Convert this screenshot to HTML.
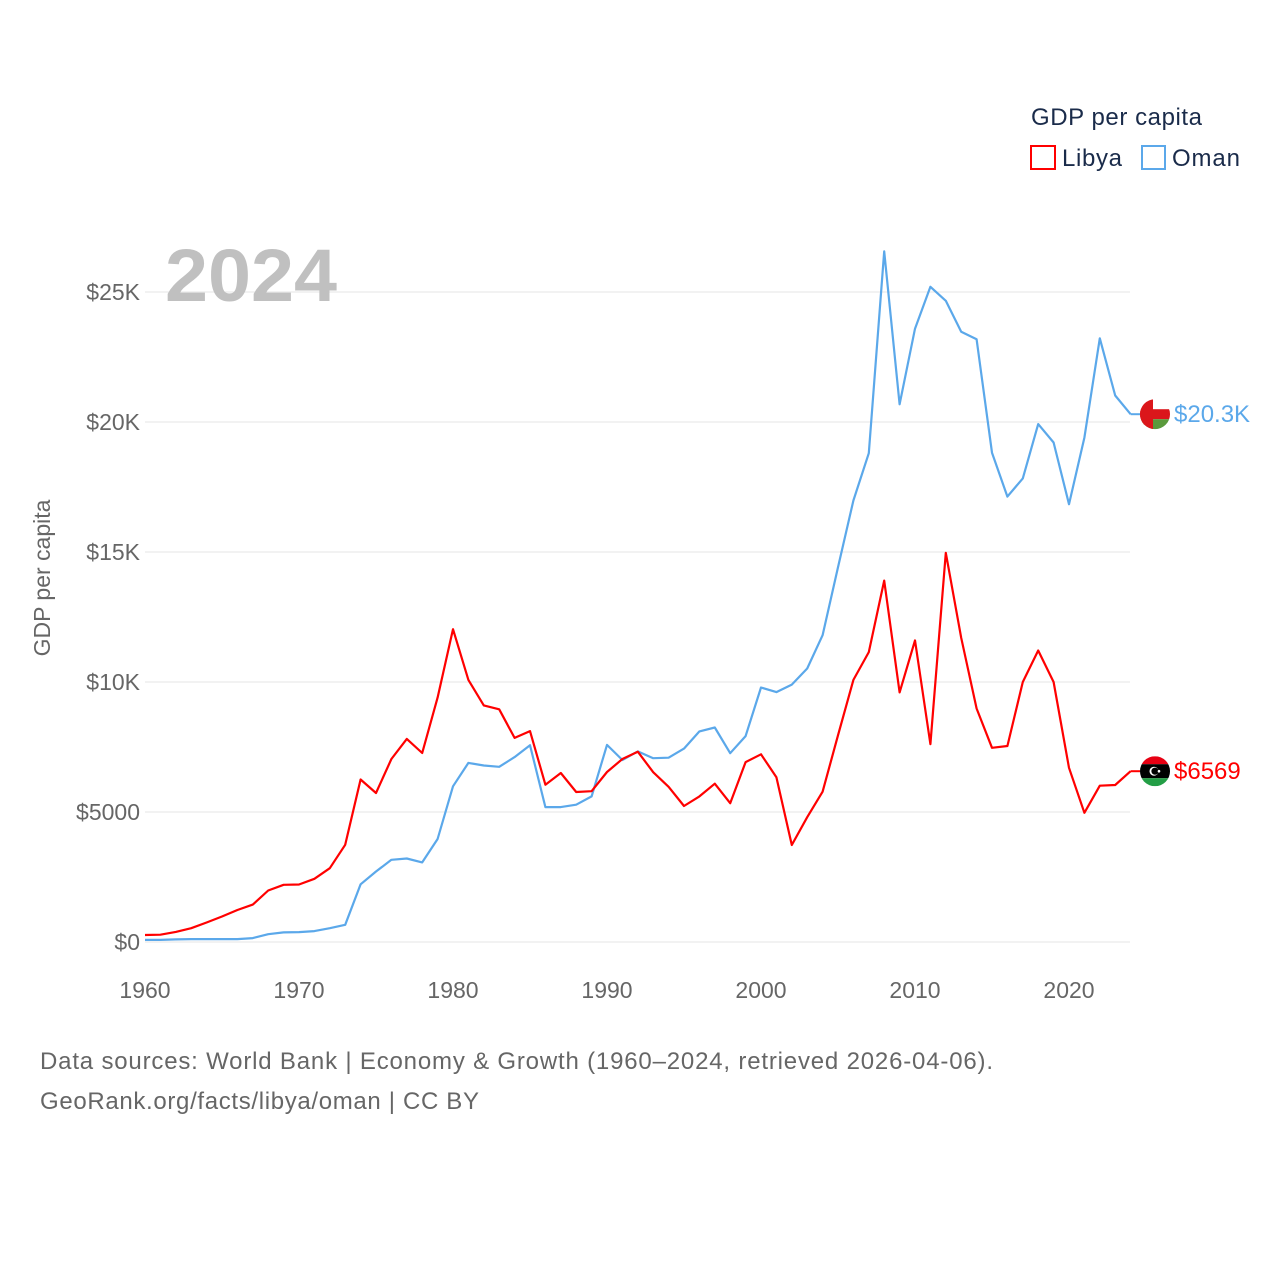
<!DOCTYPE html>
<html><head><meta charset="utf-8"><style>
body{margin:0;background:#fff;width:1280px;height:1280px;overflow:hidden;font-family:"Liberation Sans",sans-serif}
svg text{font-family:"Liberation Sans",sans-serif}
</style></head><body>
<svg id="chart" width="1280" height="1280" xmlns="http://www.w3.org/2000/svg">
<g id="grid"></g><g id="axes"></g><g id="lines"></g><g id="ends"></g>
<text x="165" y="301" font-size="74" font-weight="bold" fill="#c0c0c0" textLength="172" lengthAdjust="spacingAndGlyphs">2024</text>
<text transform="translate(50,578) rotate(-90)" text-anchor="middle" font-size="23" fill="#666">GDP per capita</text>
<g>
<text x="1031" y="125" font-size="24" fill="#1a2b4a" textLength="171">GDP per capita</text>
<g><rect x="1031" y="146" width="24" height="23" fill="none" stroke="#ff0000" stroke-width="2"/><text x="1062" y="166" font-size="24" fill="#1a2b4a" textLength="60">Libya</text></g>
<g><rect x="1142" y="146" width="23" height="23" fill="none" stroke="#5ba8ea" stroke-width="2"/><text x="1172" y="166" font-size="24" fill="#1a2b4a" textLength="68">Oman</text></g>
</g>
<text x="40" y="1069" font-size="24" fill="#666" textLength="953">Data sources: World Bank | Economy &amp; Growth (1960–2024, retrieved 2026-04-06).</text>
<text x="40" y="1109" font-size="24" fill="#666" textLength="439">GeoRank.org/facts/libya/oman | CC BY</text>
</svg>
<script>
const years=[];for(let y=1960;y<=2024;y++)years.push(y);
const libya=[0.27,0.28,0.39,0.53,0.75,0.98,1.23,1.44,1.98,2.2,2.21,2.43,2.84,3.74,6.25,5.73,7.04,7.81,7.27,9.4,12.03,10.08,9.1,8.95,7.85,8.11,6.05,6.5,5.77,5.8,6.54,7.04,7.32,6.53,5.97,5.23,5.6,6.09,5.34,6.92,7.22,6.34,3.73,4.8,5.78,7.95,10.08,11.15,13.9,9.6,11.6,7.61,14.97,11.7,8.98,7.47,7.54,10.0,11.21,10.0,6.7,4.97,6.01,6.04,6.569];
const oman=[0.08,0.08,0.1,0.11,0.11,0.11,0.11,0.15,0.3,0.37,0.38,0.42,0.53,0.66,2.22,2.71,3.16,3.21,3.06,3.96,5.99,6.89,6.79,6.74,7.11,7.57,5.19,5.19,5.28,5.6,7.58,7.0,7.33,7.07,7.09,7.44,8.1,8.25,7.26,7.92,9.79,9.61,9.9,10.52,11.8,14.41,16.98,18.8,26.56,20.68,23.59,25.2,24.66,23.47,23.18,18.82,17.13,17.83,19.92,19.21,16.84,19.4,23.22,21.02,20.3];
const yTicks=[0,5,10,15,20,25];
const yTickLabels=["$0","$5000","$10K","$15K","$20K","$25K"];
const xTicks=[1960,1970,1980,1990,2000,2010,2020];
const endLabels=["$6569","$20.3K"];
const NS="http://www.w3.org/2000/svg";
const X=y=>145+(y-1960)*15.4;
const Y=v=>942-v*26;
function mk(tag,attrs,parent){const e=document.createElementNS(NS,tag);for(const k in attrs)e.setAttribute(k,attrs[k]);document.getElementById(parent).appendChild(e);return e;}
yTicks.forEach((t,i)=>{
 const l=mk('line',{x1:145,x2:1130,y1:Y(t),y2:Y(t),stroke:'#e6e6e6','stroke-width':1},'grid');
 
 
 const tx=mk('text',{x:140,y:Y(t)+8,'text-anchor':'end','font-size':23,fill:'#666'},'axes');
 tx.textContent=yTickLabels[i];
 
 
});
xTicks.forEach(t=>{
 const tx=mk('text',{x:X(t),y:998,'text-anchor':'middle','font-size':23,fill:'#666'},'axes');
 tx.textContent=t;
 
 
});
function line(data,color,name){
 const d=data.map((v,i)=>(i?'L':'M')+X(years[i]).toFixed(1)+' '+Y(v).toFixed(1)).join(' ');
 const p=mk('path',{d:d,fill:'none',stroke:color,'stroke-width':2.2,'stroke-linejoin':'round'},'lines');
 
 
}
line(oman,'#5ba8ea','oman-line');
line(libya,'#ff0000','libya-line');
function flag(cx,cy,type,name){
 const g=mk('g',{},'ends');
 
 
 const id='c'+type;
 const cp=document.createElementNS(NS,'clipPath');cp.setAttribute('id',id);
 const c=document.createElementNS(NS,'circle');c.setAttribute('cx',cx);c.setAttribute('cy',cy);c.setAttribute('r',15);cp.appendChild(c);g.appendChild(cp);
 const add=(t,a)=>{const e=document.createElementNS(NS,t);for(const k in a)e.setAttribute(k,a[k]);e.setAttribute('clip-path','url(#'+id+')');g.appendChild(e);};
 if(type==='om'){
  add('rect',{x:cx-15,y:cy-15,width:30,height:10,fill:'#fff'});
  add('rect',{x:cx-15,y:cy-5,width:30,height:10,fill:'#db161b'});
  add('rect',{x:cx-15,y:cy+5,width:30,height:10,fill:'#5a9a3c'});
  add('rect',{x:cx-15,y:cy-15,width:13,height:30,fill:'#db161b'});
 }else{
  add('rect',{x:cx-15,y:cy-15,width:30,height:8,fill:'#e70013'});
  add('rect',{x:cx-15,y:cy-7,width:30,height:14,fill:'#000'});
  add('rect',{x:cx-15,y:cy+7,width:30,height:8,fill:'#239e46'});
  add('circle',{cx:cx-1,cy:cy,r:4.5,fill:'#fff'});
  add('circle',{cx:cx,cy:cy,r:3.6,fill:'#000'});
  add('circle',{cx:cx+4,cy:cy,r:1.3,fill:'#fff'});
 }
}
const lastL=libya[libya.length-1],lastO=oman[oman.length-1];
mk('line',{x1:X(2024),x2:1140,y1:Y(lastO),y2:Y(lastO),stroke:'#5ba8ea','stroke-width':2},'ends');
mk('line',{x1:X(2024),x2:1140,y1:Y(lastL),y2:Y(lastL),stroke:'#ff0000','stroke-width':2},'ends');
flag(1155,Y(lastO),'om','oman-flag');
flag(1155,Y(lastL),'ly','libya-flag');
const t1=mk('text',{x:1174,y:Y(lastO)+8,'font-size':24,fill:'#5ba8ea'},'ends');
t1.textContent=endLabels[1];


const t2=mk('text',{x:1174,y:Y(lastL)+8,'font-size':24,fill:'#ff0000'},'ends');
t2.textContent=endLabels[0];


</script>
</body></html>
